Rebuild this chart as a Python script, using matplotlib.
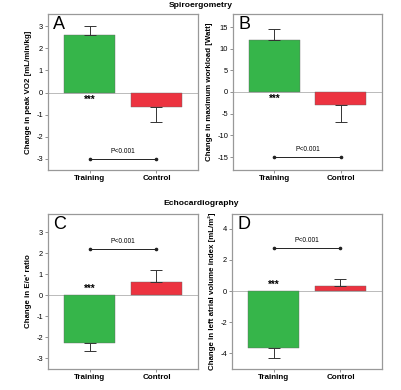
import matplotlib
matplotlib.use("Agg")
import matplotlib.pyplot as plt

plt.rcParams['font.family'] = ['Liberation Sans', 'DejaVu Sans']

categories = ["Training", "Control"]

a_vals = [2.6, -0.67]
a_err = [0.42, 0.67]
b_vals = [12.0, -3.0]
b_err = [2.5, 3.9]
c_vals = [-2.3, 0.63]
c_err = [0.37, 0.57]
d_vals = [-3.68, 0.32]
d_err = [0.62, 0.48]

p_text = "P<0.001"
stars = "***"

green = "#36b54a"
red = "#ec3340"

fig = plt.figure(figsize=(4.02, 3.90), dpi=100)

panels = [
    dict(rect=[48/402, 1-170/390, 150/402, 156/390], vals=a_vals, err=a_err, ylim=(-3.5, 3.55),
         yticks=[-3, -2, -1, 0, 1, 2, 3], ylabel="Change in peak VO2 [mL/min/kg]", letter="A",
         pline=-3.0, star=-0.32),
    dict(rect=[233/402, 1-170/390, 149/402, 156/390], vals=b_vals, err=b_err, ylim=(-18, 18),
         yticks=[-15, -10, -5, 0, 5, 10, 15], ylabel="Change in maximum workload [Watt]", letter="B",
         pline=-15.0, star=-1.6),
    dict(rect=[48/402, 1-369/390, 150/402, 155/390], vals=c_vals, err=c_err, ylim=(-3.52, 3.87),
         yticks=[-3, -2, -1, 0, 1, 2, 3], ylabel="Change in E/e' ratio", letter="C",
         pline=2.22, star=0.3),
    dict(rect=[232/402, 1-369/390, 150/402, 155/390], vals=d_vals, err=d_err, ylim=(-5, 4.95),
         yticks=[-4, -2, 0, 2, 4], ylabel="Change in left atrial volume index [mL/m²]", letter="D",
         pline=2.76, star=0.4),
]

x = [0, 1]
for p in panels:
    ax = fig.add_axes(p["rect"])
    ax.axhline(0, color="#b0b0b0", lw=0.6, zorder=1)
    ax.bar(x, p["vals"], width=0.76, color=[green, red], edgecolor="#666666",
           linewidth=0.3, zorder=2)
    for xi, v, e in zip(x, p["vals"], p["err"]):
        sign = 1 if v >= 0 else -1
        ax.errorbar([xi], [v], yerr=[[e] if sign < 0 else [0], [e] if sign > 0 else [0]],
                    fmt="none", ecolor="#333333", elinewidth=0.7, capsize=4.5, capthick=0.7, zorder=3)
    ax.plot(x, [p["pline"]] * 2, color="#222222", lw=0.7, marker="o", markersize=1.6, zorder=3)
    span = p["ylim"][1] - p["ylim"][0]
    ax.text(0.5, p["pline"] + span * 0.025, p_text, ha="center", va="bottom", fontsize=4.8)
    ax.text(0, p["star"], stars, ha="center", va="center", fontsize=7, fontweight="bold")
    ax.set_xlim(-0.62, 1.62)
    ax.set_ylim(*p["ylim"])
    ax.set_yticks(p["yticks"])
    ax.set_yticklabels([str(t) for t in p["yticks"]], fontsize=5.4)
    ax.set_xticks(x)
    ax.set_xticklabels(categories, fontsize=5.8, fontweight="bold")
    ax.set_ylabel(p["ylabel"], fontsize=5.7, fontweight="bold", labelpad=3)
    ax.tick_params(axis="both", length=2, width=0.5, color="#666666", pad=1.5)
    for s in ax.spines.values():
        s.set_color("#999999")
        s.set_linewidth(0.9)
    ax.text(0.035, 0.99, p["letter"], transform=ax.transAxes, ha="left", va="top", fontsize=13)

fig.text(0.5, 1-5.5/390, "Spiroergometry", ha="center", va="center", fontsize=6.1, fontweight="bold")
fig.text(0.5, 1-203/390, "Echocardiography", ha="center", va="center", fontsize=6.1, fontweight="bold")

fig.savefig("out.png", dpi=100)
